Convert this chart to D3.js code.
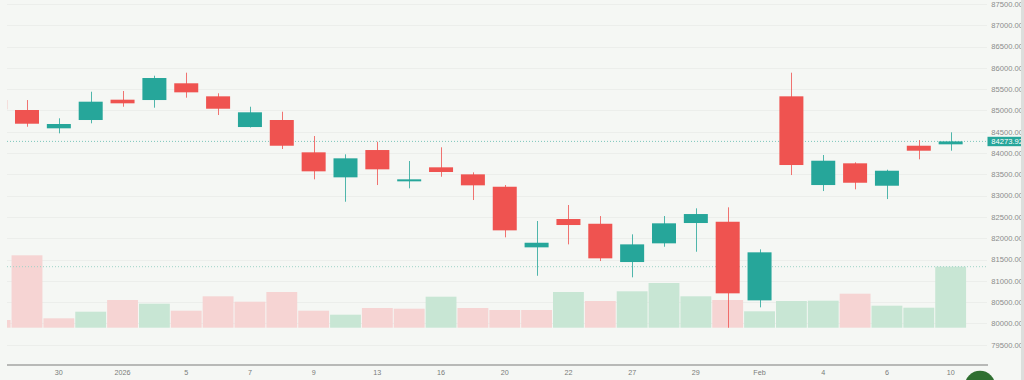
<!DOCTYPE html>
<html>
<head>
<meta charset="utf-8">
<script src="https://cdn.jsdelivr.net/npm/d3@7"></script>
<style>
html,body{margin:0;padding:0;background:#f5f7f4;overflow:hidden;}
svg{display:block;}
text{font-family:"Liberation Sans",Arial,sans-serif;}
</style>
</head>
<body>
<svg id="chart" width="1024" height="380"></svg>
<script>
// ---- data ----
const dates = ["2025-12-26","2025-12-29","2025-12-30","2025-12-31","2026-01-01","2026-01-02","2026-01-05","2026-01-06","2026-01-07","2026-01-08","2026-01-09","2026-01-12","2026-01-13","2026-01-14","2026-01-16","2026-01-19","2026-01-20","2026-01-21","2026-01-22","2026-01-23","2026-01-27","2026-01-28","2026-01-29","2026-01-30","2026-02-02","2026-02-03","2026-02-04","2026-02-05","2026-02-06","2026-02-09","2026-02-10"];
const open  = [85245,85011,84581,84776,85253,85245,85638,85332,84611,84776,84017,83430,84071,83336,83665,83500,83209,81786,82451,82340,81441,81880,82357,82387,80541,85332,83249,83759,83233,84172,84205];
const high  = [85330,85245,84816,85440,85457,85816,85887,85403,85088,84971,84400,83970,84266,83813,84135,83547,83249,82404,82780,82521,82091,82521,82702,82726,81739,85887,83954,83782,83609,84306,84487];
const low   = [84950,84618,84463,84698,85088,85065,85300,84893,84600,84095,83383,82857,83249,83172,83444,82897,82021,81119,81856,81464,81082,81800,81683,79898,80377,83484,83108,83148,82920,83853,84055];
const close = [85027,84689,84682,85206,85168,85762,85426,85041,84957,84172,83571,83876,83618,83383,83555,83242,82185,81894,82310,81528,81856,82350,82568,80706,81669,83719,83820,83303,83585,84055,84273.92];
const volume = [0.77,7.24,0.94,1.60,2.77,2.40,1.70,3.14,2.60,3.57,1.70,1.30,1.97,1.90,3.10,1.97,1.77,1.77,3.57,2.67,3.64,4.47,3.14,2.77,1.64,2.67,2.70,3.40,2.20,2.00,6.10];
const tickDates  = ["2025-12-30","2026-01-01","2026-01-05","2026-01-07","2026-01-09","2026-01-13","2026-01-16","2026-01-20","2026-01-22","2026-01-27","2026-01-29","2026-02-02","2026-02-04","2026-02-06","2026-02-10"];
const tickLabels = ["30","2026","5","7","9","13","16","20","22","27","29","Feb","4","6","10"];
const priceTicks = [79500,80000,80500,81000,81500,82000,82500,83000,83500,84000,84500,85000,85500,86000,86500,87000,87500];

const UP = "#26a69a", DOWN = "#ef5350";
const UPVOL = "#c8e6d4", DOWNVOL = "#f6d4d3";

const svg = d3.select("#chart");
const plotL = 7, plotR = 987, plotT = 0, axisY = 365;

const x = d3.scaleBand().domain(dates).range([-20.78, -20.78 + 31.85*dates.length]).paddingInner(0).paddingOuter(0);
const y = d3.scaleLinear().domain([79500, 87500]).range([344.7, 4]);
const yv = d3.scaleLinear().domain([0, 10]).range([327.7, 227.7]);
const cx = d => x(d) + x.bandwidth()/2;

svg.append("defs").append("clipPath").attr("id","clip")
  .append("rect").attr("x",plotL).attr("y",plotT).attr("width",plotR-plotL).attr("height",axisY-plotT);

// grid
svg.append("g").selectAll("line").data(priceTicks).join("line")
  .attr("x1",plotL).attr("x2",plotR)
  .attr("y1",d=>Math.round(y(d))+0.5).attr("y2",d=>Math.round(y(d))+0.5)
  .attr("stroke","#eceeeb").attr("stroke-width",1);

const g = svg.append("g").attr("clip-path","url(#clip)");
const rows = dates.map((d,i)=>({d, o:open[i], h:high[i], l:low[i], c:close[i], v:volume[i], pc: i>0?close[i-1]:Infinity}));

// volume
g.append("g").selectAll("rect").data(rows).join("rect")
  .attr("x",r=>x(r.d)+0.5).attr("width",x.bandwidth()-1)
  .attr("y",r=>yv(r.v)).attr("height",r=>yv(0)-yv(r.v))
  .attr("fill",r=> r.c>=r.pc ? UPVOL : DOWNVOL);

// last value lines
const last = rows[rows.length-1];
g.append("line").attr("x1",plotL).attr("x2",plotR)
  .attr("y1",yv(last.v)).attr("y2",yv(last.v))
  .attr("stroke","#9fd3c7").attr("stroke-width",1).attr("stroke-dasharray","1,2");
g.append("line").attr("x1",plotL).attr("x2",plotR)
  .attr("y1",y(last.c)).attr("y2",y(last.c))
  .attr("stroke","#7cc5bb").attr("stroke-width",1).attr("stroke-dasharray","1,2");

// wicks
g.append("g").selectAll("line").data(rows).join("line")
  .attr("x1",r=>Math.round(cx(r.d))+0.5).attr("x2",r=>Math.round(cx(r.d))+0.5)
  .attr("y1",r=>y(r.h)).attr("y2",r=>y(r.l))
  .attr("stroke",r=> r.c>=r.o ? UP : DOWN).attr("stroke-width",1).attr("opacity",0.8);
// bodies
const bw = 24;
g.append("g").selectAll("rect").data(rows).join("rect")
  .attr("x",r=>cx(r.d)-bw/2).attr("width",bw)
  .attr("y",r=>y(Math.max(r.o,r.c)))
  .attr("height",r=>Math.max(1.5, y(Math.min(r.o,r.c))-y(Math.max(r.o,r.c))))
  .attr("fill",r=> r.c>=r.o ? UP : DOWN);

// x axis
svg.append("line").attr("x1",plotL).attr("x2",plotR+1).attr("y1",axisY).attr("y2",axisY)
  .attr("stroke","#a3a5a3").attr("stroke-width",1.4);
svg.append("g").selectAll("text").data(tickDates).join("text")
  .attr("x",d=>cx(d)).attr("y",375.3)
  .attr("text-anchor","middle").attr("font-size",7.2).attr("fill","#7a7c7a")
  .text((d,i)=>tickLabels[i]);

// price scale labels
svg.append("g").selectAll("text").data(priceTicks).join("text")
  .attr("x",991.3).attr("y",d=>y(d)+2.8)
  .attr("font-size",7.6).attr("fill","#8a8c8a")
  .text(d=>d3.format(".2f")(d));

// last price label
const ly = y(last.c);
svg.append("rect").attr("x",987.5).attr("y",ly-4.6).attr("width",40).attr("height",9.4).attr("fill",UP);
svg.append("text").attr("x",991.3).attr("y",ly+2.8).attr("font-size",7.6).attr("fill","#ffffff")
  .text(d3.format(".2f")(last.c));

// right edge bar
svg.append("rect").attr("x",1021).attr("y",0).attr("width",3).attr("height",380).attr("fill","#dcdedc");

// bottom-right badge
svg.append("circle").attr("cx",980).attr("cy",386).attr("r",15.2).attr("fill","#2f6f30");
</script>
</body>
</html>
